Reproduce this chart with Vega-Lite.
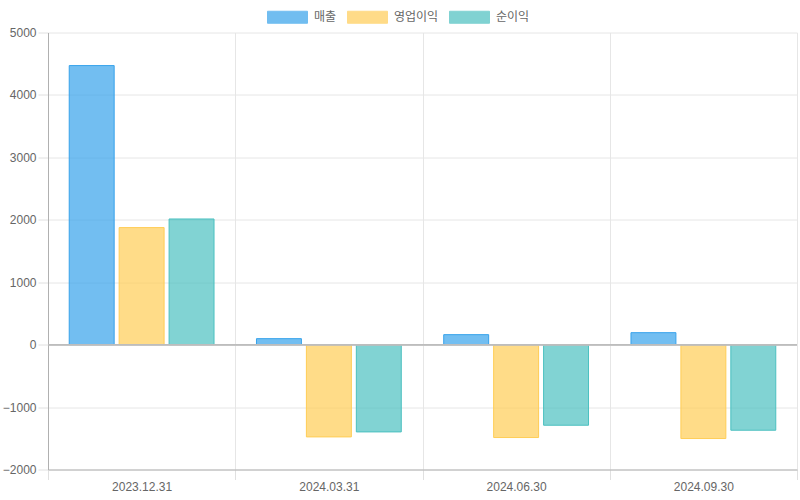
{
  "$schema": "https://vega.github.io/schema/vega-lite/v6.json",
  "autosize": {"type": "none"},
  "width": 749,
  "height": 437,
  "padding": {"left": 48, "top": 32.5, "right": 3, "bottom": 30.5},
  "config": {
    "view": {"stroke": null},
    "font": "Liberation Sans",
    "axis": {
      "labelColor": "#666666",
      "labelFontSize": 12,
      "labelFont": "Liberation Sans",
      "gridColor": "#e6e6e6",
      "gridOpacity": 1,
      "tickColor": "#e6e6e6",
      "domainColor": "#b0b0b0",
      "tickSize": 10,
      "labelPadding": 2,
      "title": null
    }
  },
  "data": {
    "values": [
      {"date": "2023.12.31", "series": "매출", "value": 4470},
      {"date": "2023.12.31", "series": "영업이익", "value": 1875},
      {"date": "2023.12.31", "series": "순이익", "value": 2013},
      {"date": "2024.03.31", "series": "매출", "value": 96},
      {"date": "2024.03.31", "series": "영업이익", "value": -1478},
      {"date": "2024.03.31", "series": "순이익", "value": -1398},
      {"date": "2024.06.30", "series": "매출", "value": 160},
      {"date": "2024.06.30", "series": "영업이익", "value": -1488},
      {"date": "2024.06.30", "series": "순이익", "value": -1291},
      {"date": "2024.09.30", "series": "매출", "value": 192},
      {"date": "2024.09.30", "series": "영업이익", "value": -1504},
      {"date": "2024.09.30", "series": "순이익", "value": -1371}
    ]
  },
  "layer": [
    {
      "mark": {"type": "bar", "fillOpacity": 0.7, "strokeWidth": 1},
      "encoding": {
        "x": {
          "field": "date",
          "type": "nominal",
          "sort": null,
          "scale": {"paddingInner": 0, "paddingOuter": 0},
          "axis": {
            "tickBand": "extent",
            "labelAngle": 0,
            "grid": true,
            "domainColor": "#b0b0b0",
            "tickColor": "#e0e0e0"
          }
        },
        "xOffset": {
          "field": "series",
          "type": "nominal",
          "sort": ["매출", "영업이익", "순이익"],
          "scale": {"paddingInner": 0.1, "paddingOuter": 0.425}
        },
        "y": {
          "field": "value",
          "type": "quantitative",
          "scale": {"domain": [-2000, 5000], "nice": false, "zero": false},
          "axis": {
            "values": [-2000, -1000, 0, 1000, 2000, 3000, 4000, 5000],
            "format": "d",
            "tickColor": "#e0e0e0",
            "domainColor": "#b0b0b0"
          }
        },
        "color": {
          "field": "series",
          "type": "nominal",
          "sort": ["매출", "영업이익", "순이익"],
          "scale": {"domain": ["매출", "영업이익", "순이익"], "range": ["#36a2eb", "#ffcd56", "#4bc0c0"]},
          "legend": {
            "orient": "none",
            "legendX": 219,
            "legendY": -36,
            "direction": "horizontal",
            "title": null,
            "symbolType": "M-1,-0.3H1V0.3H-1Z",
            "symbolSize": 1600,
            "symbolOpacity": 0.7,
            "symbolStrokeWidth": 1,
            "labelColor": "#666666",
            "labelFontSize": 12,
            "labelFont": "Noto Sans CJK KR",
            "labelOffset": 6,
            "columnPadding": 8
          }
        },
        "stroke": {
          "field": "series",
          "type": "nominal",
          "sort": ["매출", "영업이익", "순이익"],
          "scale": {"domain": ["매출", "영업이익", "순이익"], "range": ["#36a2eb", "#ffcd56", "#4bc0c0"]},
          "legend": {
            "orient": "none",
            "legendX": 219,
            "legendY": -36,
            "direction": "horizontal",
            "title": null,
            "symbolType": "M-1,-0.3H1V0.3H-1Z",
            "symbolSize": 1600,
            "symbolOpacity": 0.7,
            "symbolStrokeWidth": 1,
            "labelColor": "#666666",
            "labelFontSize": 12,
            "labelFont": "Noto Sans CJK KR",
            "labelOffset": 6,
            "columnPadding": 8
          }
        }
      }
    },
    {
      "mark": {"type": "rule", "color": "#bdbdbd", "strokeWidth": 1},
      "encoding": {"y": {"datum": 0}}
    }
  ]
}
